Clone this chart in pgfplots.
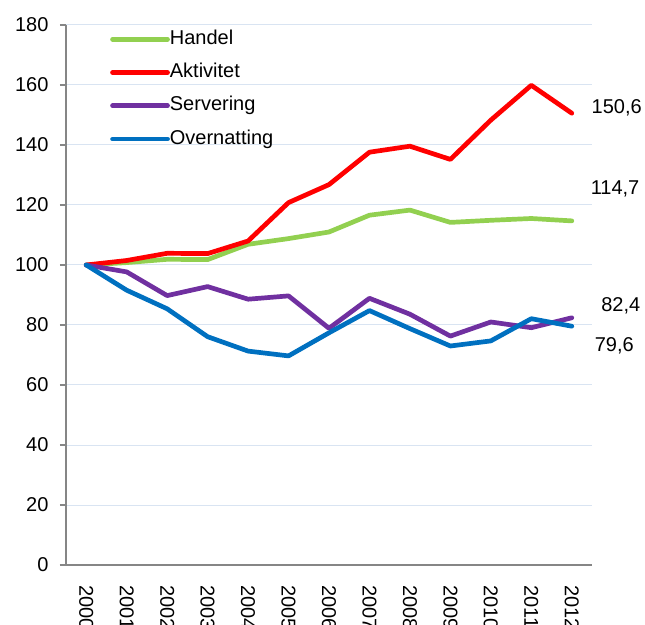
\documentclass[border=0pt]{standalone}
\usepackage{fontspec}
\setmainfont{Liberation Sans}
\usepackage{pgfplots}
\pgfplotsset{compat=1.18}
\definecolor{cHandel}{HTML}{92D050}
\definecolor{cAkt}{HTML}{FF0000}
\definecolor{cServ}{HTML}{7030A0}
\definecolor{cOver}{HTML}{0070C0}
\definecolor{cGrid}{HTML}{D9E4F2}
\definecolor{cAxis}{HTML}{868686}
\begin{document}
\begin{tikzpicture}
\begin{axis}[
  scale only axis,
  width=526pt, height=540pt,
  xmin=-0.5, xmax=12.5,
  ymin=0, ymax=180,
  ytick={0,20,...,180},
  xtick={0,...,12},
  xticklabels={2000,2001,2002,2003,2004,2005,2006,2007,2008,2009,2010,2011,2012},
  axis x line*=bottom,
  axis y line*=left,
  axis line style={cAxis, line width=1.3pt, -},
  x axis line style={shorten <=-6pt},
  ymajorgrids,
  grid style={cGrid, line width=1pt},
  tick align=outside,
  major tick length=6pt,
  ytick style={cAxis, line width=1.3pt},
  xtick style={draw=none},
  tick label style={font=\fontsize{20}{24}\selectfont, text=black},
  /pgf/number format/assume math mode=true,
  yticklabel style={xshift=-8pt},
  xticklabel style={rotate=-90, anchor=west, inner sep=0pt, xshift=14pt},
  clip=false,
  every axis plot/.append style={line width=4.7pt, line join=round, line cap=round, mark=none},
  legend style={
    at={(41pt,537pt)}, anchor=north west,
    draw=none, fill=none,
    font=\fontsize{20}{24}\selectfont,
    row sep=15.3pt,
    nodes={inner sep=0pt, text height=14pt, text depth=4pt},
    /tikz/every even column/.append style={column sep=5pt},
  },
  legend cell align=left,
  legend image code/.code={\draw[#1] (0pt,0pt) -- (55pt,0pt);},
]
\addplot[cHandel] coordinates {
(0,100) (1,100.8) (2,101.9) (3,101.8) (4,106.9) (5,108.8) (6,111.0) (7,116.6) (8,118.3) (9,114.2) (10,114.9) (11,115.5) (12,114.7)};
\addlegendentry{Handel}
\addplot[cAkt] coordinates {
(0,100) (1,101.5) (2,103.9) (3,103.8) (4,108.0) (5,120.8) (6,126.8) (7,137.6) (8,139.6) (9,135.2) (10,148.3) (11,159.9) (12,150.6)};
\addlegendentry{Aktivitet}
\addplot[cServ] coordinates {
(0,100) (1,97.7) (2,89.8) (3,92.8) (4,88.6) (5,89.7) (6,78.9) (7,88.9) (8,83.6) (9,76.3) (10,81.0) (11,79.1) (12,82.4)};
\addlegendentry{Servering}
\addplot[cOver] coordinates {
(0,100) (1,91.6) (2,85.4) (3,76.1) (4,71.3) (5,69.7) (6,77.4) (7,84.8) (8,78.8) (9,73.0) (10,74.7) (11,82.1) (12,79.6)};
\addlegendentry{Overnatting}
\node[font=\fontsize{20}{24}\selectfont] at (axis cs:13.11,152.3) {150,6};
\node[font=\fontsize{20}{24}\selectfont] at (axis cs:13.07,125.3) {114,7};
\node[font=\fontsize{20}{24}\selectfont] at (axis cs:13.21,86.3) {82,4};
\node[font=\fontsize{20}{24}\selectfont] at (axis cs:13.05,73.0) {79,6};
\end{axis}
\pgfresetboundingbox
\path[use as bounding box] (current axis.south west) ++(-66pt,-59pt) rectangle ++(645pt,624pt);
\end{tikzpicture}
\end{document}
